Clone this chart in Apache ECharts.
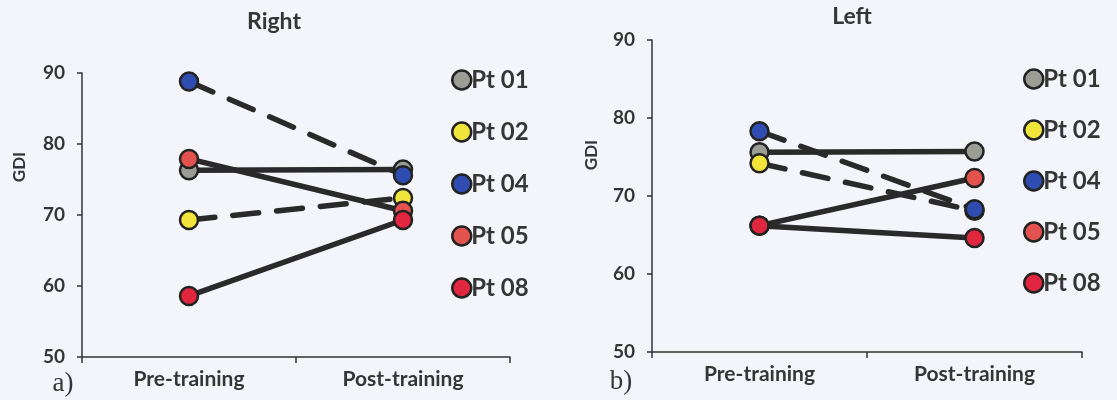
<!DOCTYPE html>
<html>
<head>
<meta charset="utf-8">
<script src="https://cdn.jsdelivr.net/npm/echarts@6/dist/echarts.min.js"></script>
<style>
  html, body { margin: 0; padding: 0; background: #f4f5fa; }
  #chart { width: 1117px; height: 400px; }
</style>
</head>
<body>
<div id="chart"></div>
<script>
// ---- data ----
const categories = ['Pre-training', 'Post-training'];
const patients = ['Pt 01', 'Pt 02', 'Pt 04', 'Pt 05', 'Pt 08'];
const patientColors = ['#9b9d95', '#f1e43a', '#2f4db0', '#e2534f', '#e1263f'];
const dashedPatients = ['Pt 02', 'Pt 04'];
const yTicks = [50, 60, 70, 80, 90];
const panelTitles = ['Right', 'Left'];
const panelLetters = ['a)', 'b)'];
const yName = 'GDI';

// Right (panel a)
const rightPt01 = [76.3, 76.4];
const rightPt02 = [69.3, 72.4];
const rightPt04 = [88.8, 75.6];
const rightPt05 = [77.9, 70.6];
const rightPt08 = [58.6, 69.3];

// Left (panel b)
const leftPt01 = [75.6, 75.7];
const leftPt02 = [74.2, 68.1];
const leftPt04 = [78.3, 68.3];
const leftPt05 = [66.2, 72.3];
const leftPt08 = [66.2, 64.6];

const rightValues = [rightPt01, rightPt02, rightPt04, rightPt05, rightPt08];
const leftValues = [leftPt01, leftPt02, leftPt04, leftPt05, leftPt08];

// ---- chart ----
const FONT = 'Lato, "Open Sans", sans-serif';
const SERIF = '"Liberation Serif", "DejaVu Serif", serif';
const TXT = '#353535';

function makeSeries(values, idx) {
  return patients.map((name, i) => ({
    name: name,
    type: 'line',
    xAxisIndex: idx,
    yAxisIndex: idx,
    data: values[i],
    symbol: 'circle',
    symbolSize: 18,
    showSymbol: true,
    animation: false,
    itemStyle: { color: patientColors[i], borderColor: '#222', borderWidth: 2.5, opacity: 1 },
    lineStyle: {
      color: '#2a2a2a',
      width: 5.5,
      type: dashedPatients.includes(name) ? [26, 18] : 'solid',
      cap: 'round'
    },
    emphasis: { disabled: true }
  }));
}

function yAxis(idx) {
  return {
    gridIndex: idx,
    type: 'value',
    min: yTicks[0],
    max: yTicks[yTicks.length - 1],
    interval: 10,
    axisLine: { show: true, lineStyle: { color: '#333', width: 1.5 } },
    axisTick: { show: true, length: 5, lineStyle: { color: '#333', width: 1.5 } },
    splitLine: { show: false },
    axisLabel: { fontFamily: FONT, fontWeight: 'bold', fontSize: 19, color: TXT, margin: 17 }
  };
}

function xAxis(idx) {
  return {
    gridIndex: idx,
    type: 'category',
    data: categories,
    boundaryGap: true,
    axisLine: { show: true, lineStyle: { color: '#333', width: 1.5 } },
    axisTick: { show: true, length: 6, lineStyle: { color: '#333', width: 1.5 } },
    axisLabel: { fontFamily: FONT, fontWeight: 'bold', fontSize: 21, color: TXT, margin: 12 }
  };
}

function legend(left, top, gap) {
  return {
    data: patients,
    orient: 'vertical',
    left: left,
    top: top,
    icon: 'circle',
    itemWidth: 19,
    itemHeight: 19,
    itemGap: gap,
    padding: 0,
    selectedMode: false,
    itemStyle: { borderColor: '#222', borderWidth: 2.5 },
    textStyle: { fontFamily: FONT, fontWeight: 'bold', fontSize: 24, lineHeight: 26, color: TXT, padding: [0, 0, 0, -5] }
  };
}

function txt(text, x, y, size, font, extra) {
  return Object.assign({
    type: 'text', x: x, y: y, silent: true,
    style: { text: text, fontFamily: font, fontSize: size, fontWeight: font === SERIF ? 'normal' : 'bold',
             fill: TXT, align: 'center', verticalAlign: 'middle' }
  }, extra || {});
}

const chart = echarts.init(document.getElementById('chart'));
chart.setOption({
  backgroundColor: '#f4f5fa',
  animation: false,
  grid: [
    { left: 82, top: 73, width: 428, height: 284 },
    { left: 652, top: 40, width: 430, height: 312 }
  ],
  xAxis: [xAxis(0), xAxis(1)],
  yAxis: [yAxis(0), yAxis(1)],
  legend: [legend(451, 67, 26), legend(1023, 66, 25)],
  graphic: [
    txt(panelTitles[0], 274, 22, 23, FONT),
    txt(panelTitles[1], 852, 17, 23, FONT),
    txt(yName, 20, 167, 17, FONT, { rotation: Math.PI / 2 }),
    txt(yName, 592, 155, 17, FONT, { rotation: Math.PI / 2 }),
    txt(panelLetters[0], 63, 384, 27, SERIF),
    txt(panelLetters[1], 621, 382, 27, SERIF)
  ],
  series: makeSeries(rightValues, 0).concat(makeSeries(leftValues, 1))
});
</script>
</body>
</html>
